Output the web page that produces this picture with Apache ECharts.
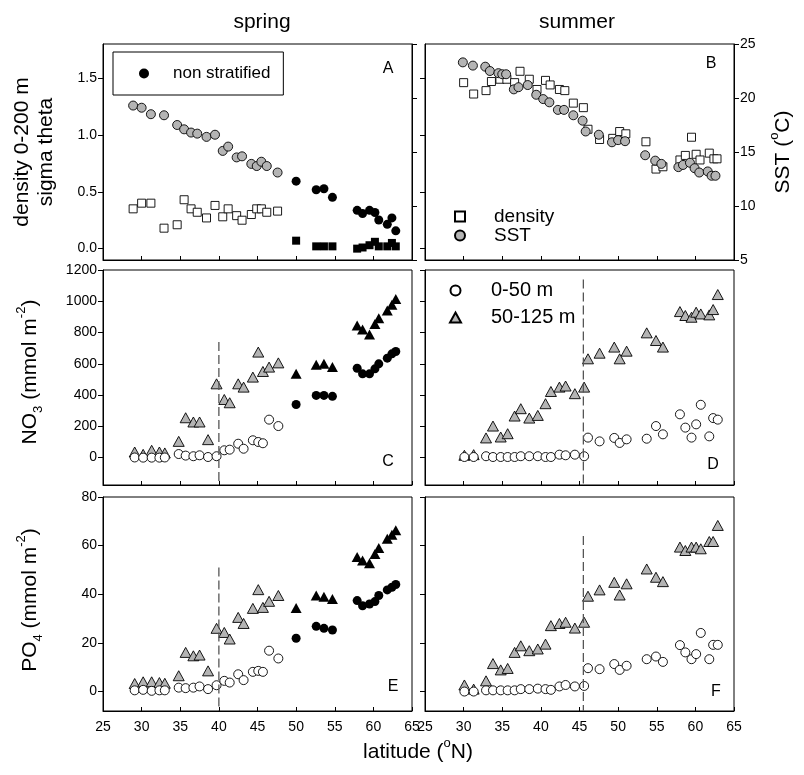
<!DOCTYPE html>
<html>
<head>
<meta charset="utf-8">
<script src="https://cdn.jsdelivr.net/npm/echarts@6/dist/echarts.min.js"></script>
</head>
<body style="margin:0;background:#fff">
<div id="main" style="width:804px;height:775px"></div>
<script type="text/javascript">
// ---- data ----
// panel A (spring, stratified stations with CTD)
var springCtdLat = [28.9, 30.0, 31.2, 32.9, 34.6, 35.5, 36.4, 37.2, 38.4, 39.5, 40.5, 41.2, 42.3, 43.0, 44.2, 44.9, 45.5, 46.2, 47.6];
var springDensity = [0.35, 0.40, 0.40, 0.18, 0.21, 0.43, 0.35, 0.32, 0.27, 0.38, 0.28, 0.35, 0.29, 0.25, 0.30, 0.35, 0.35, 0.32, 0.33];
var springSST = [19.3, 19.1, 18.5, 18.4, 17.5, 17.1, 16.8, 16.7, 16.4, 16.6, 15.1, 15.5, 14.5, 14.6, 13.9, 13.7, 14.1, 13.7, 13.1];
// spring non stratified stations
var springNsLat = [50.0, 52.6, 53.6, 54.7, 57.9, 58.6, 59.5, 60.2, 60.7, 61.8, 62.4, 62.9];
var springNsDensity = [0.07, 0.02, 0.02, 0.02, 0.0, 0.01, 0.03, 0.06, 0.02, 0.02, 0.05, 0.02];
var springNsSST = [12.3, 11.5, 11.6, 10.8, 9.6, 9.3, 9.6, 9.4, 8.7, 8.3, 8.9, 7.7];
// panel B (summer)
var summerSSTLat = [29.9, 31.2, 32.8, 33.4, 34.5, 35.0, 35.5, 36.5, 37.1, 38.3, 39.4, 40.3, 41.1, 42.2, 43.0, 44.2, 45.4, 45.8, 47.5, 49.2, 50.0, 50.9, 53.5, 54.8, 55.6, 57.8, 58.4, 59.3, 59.9, 60.5, 61.6, 62.1, 62.6];
var summerSST = [23.3, 23.0, 22.9, 22.5, 22.3, 22.2, 22.2, 20.8, 21.0, 21.2, 20.3, 19.9, 19.6, 18.9, 18.9, 18.4, 17.9, 16.9, 16.6, 15.9, 16.1, 16.0, 14.7, 14.2, 13.9, 13.6, 13.8, 14.0, 13.5, 13.1, 13.2, 12.8, 12.8];
var summerDensLat = [30.0, 31.3, 32.9, 33.6, 34.7, 35.6, 36.6, 37.3, 38.5, 39.5, 40.6, 41.2, 42.4, 43.1, 44.2, 45.5, 46.1, 47.6, 49.3, 50.2, 51.0, 53.6, 54.9, 55.8, 58.0, 58.7, 59.5, 60.1, 60.6, 61.8, 62.4, 62.8];
var summerDensity = [1.46, 1.36, 1.39, 1.47, 1.49, 1.49, 1.46, 1.56, 1.49, 1.40, 1.48, 1.44, 1.40, 1.39, 1.28, 1.24, 1.05, 0.96, 0.97, 1.03, 1.01, 0.94, 0.70, 0.72, 0.78, 0.82, 0.98, 0.83, 0.78, 0.84, 0.79, 0.79];
// panels C / E (spring nutrients)
var springStnLat = [29.1, 30.2, 31.3, 32.3, 33.0, 34.8, 35.7, 36.7, 37.5, 38.6, 39.7, 40.7, 41.4, 42.5, 43.2, 44.4, 45.1, 45.7, 46.5, 47.7];
var springNO3top = [1, 0, 0, 0, 1, 23, 13, 9, 15, 4, 9, 47, 51, 89, 57, 111, 100, 92, 243, 202];
var springNO3deep = [36, 21, 47, 36, 30, 104, 255, 228, 228, 115, 472, 372, 351, 472, 451, 515, 675, 551, 579, 606];
var springNsNO3top = [340, 398, 398, 392, 572, 536, 536, 568, 600, 636, 664, 679];
var springNsNO3deep = [536, 594, 600, 579, 845, 819, 787, 855, 892, 941, 977, 1015];
var springPO4top = [0.5, 0.7, 0.3, 0.5, 0.5, 1.6, 1.4, 1.6, 2.1, 1.0, 2.6, 4.4, 3.7, 7.1, 4.7, 8.1, 8.5, 8.1, 16.8, 13.6];
var springPO4deep = [3.3, 4.0, 4.0, 3.7, 3.4, 6.5, 16.1, 14.7, 15.0, 8.5, 26.0, 24.3, 21.6, 30.5, 28.0, 34.2, 41.9, 34.6, 37.1, 39.5];
var springNsPO4top = [21.9, 26.8, 26.0, 25.3, 37.4, 35.3, 36.0, 37.0, 39.5, 41.8, 42.9, 44.0];
var springNsPO4deep = [34.4, 39.5, 39.0, 38.1, 55.3, 53.9, 52.8, 56.6, 59.0, 62.8, 64.5, 66.3];
// panels D / F (summer nutrients)
var summerStnLat = [30.1, 31.3, 32.9, 33.8, 34.8, 35.7, 36.6, 37.4, 38.5, 39.6, 40.6, 41.3, 42.4, 43.2, 44.4, 45.6, 46.1, 47.6, 49.5, 50.2, 51.1, 53.7, 54.9, 55.8, 58.0, 58.7, 59.5, 60.1, 60.7, 61.8, 62.3, 62.9];
var summerNO3top = [4, 4, 9, 4, 4, 4, 4, 9, 9, 9, 4, 4, 19, 15, 19, 9, 128, 104, 126, 94, 117, 121, 202, 149, 277, 192, 128, 213, 338, 136, 253, 243];
var summerNO3deep = [15, 19, 126, 202, 132, 153, 266, 313, 253, 270, 345, 423, 451, 458, 409, 451, 632, 668, 707, 632, 681, 798, 749, 707, 934, 909, 898, 930, 919, 913, 947, 1043];
var summerPO4top = [0, 0, 0.5, 0.5, 0.5, 0.5, 0.5, 1.0, 1.0, 1.2, 1.0, 0.7, 2.1, 2.7, 2.1, 2.3, 9.6, 9.2, 11.3, 8.9, 10.6, 13.3, 14.4, 12.2, 19.1, 16.1, 13.3, 15.4, 24.1, 13.3, 19.2, 19.2];
var summerPO4deep = [2.7, 1.0, 4.4, 11.5, 8.9, 9.5, 16.1, 18.8, 16.8, 17.5, 19.5, 27.1, 28.0, 28.5, 26.1, 28.5, 39.2, 41.8, 44.9, 39.7, 44.3, 50.4, 47.0, 45.2, 59.4, 58.0, 59.4, 59.4, 58.7, 61.7, 61.7, 68.3];
// stratification fronts (dashed lines): latitude and upper end
var frontLat = [40, 45.5];
var frontTopNO3 = [740, 1140];
var frontTopPO4 = [51, 64];
// axis ranges and ticks
var latTicks = [25, 65, 5];
var densityRange = [-0.1, 1.8], densityTicks = [0, 0.5, 1.0, 1.5];
var sstRange = [5, 25, 5];
var no3Range = [-175, 1200], no3Ticks = [0, 200, 400, 600, 800, 1000, 1200];
var po4Range = [-8, 80], po4Ticks = [0, 20, 40, 60, 80];

var FONT = "'Liberation Sans', Arial, sans-serif";
var GRAY = '#b4b4b4';

function pts(lats, vals) {
    return lats.map(function (x, i) { return [x, vals[i]]; });
}

function scat(name, gi, yi, lats, vals, symbol, size, fill) {
    return {
        name: name, type: 'scatter', xAxisIndex: gi, yAxisIndex: yi,
        symbol: symbol, symbolSize: size,
        itemStyle: {color: fill, borderColor: '#000', borderWidth: fill === '#000' ? 0 : 0.9, opacity: 1},
        data: pts(lats, vals), silent: true
    };
}

function front(gi, yi, lat, top, bottom) {
    return {
        type: 'line', xAxisIndex: gi, yAxisIndex: yi, symbol: 'none', silent: true,
        lineStyle: {color: '#555', width: 1.3, type: [9, 4]},
        data: [[lat, top], [lat, bottom]]
    };
}

var grids = [
    {left: 103, top: 44, width: 309, height: 216},
    {left: 425, top: 44, width: 309, height: 216},
    {left: 103, top: 270, width: 309, height: 215},
    {left: 425, top: 270, width: 309, height: 215},
    {left: 103, top: 497, width: 309, height: 214},
    {left: 425, top: 497, width: 309, height: 214}
];
grids.forEach(function (g) {
    g.show = true; g.borderColor = '#000'; g.borderWidth = 1; g.outerBoundsMode = 'none';
});

var xAxes = grids.map(function (g, i) {
    return {
        gridIndex: i, type: 'value', min: latTicks[0], max: latTicks[1], interval: latTicks[2],
        axisLine: {onZero: false, lineStyle: {color: '#000', width: 1}},
        axisTick: {inside: true, length: 4, lineStyle: {color: '#000'}},
        axisLabel: {show: i >= 4, color: '#000', fontSize: 14, fontFamily: FONT, margin: 9},
        splitLine: {show: false}
    };
});

var plainFmt = function (v) { return String(v); };
function yAx(gi, range, ticks, showLabel, fmt) {
    return {
        gridIndex: gi, type: 'value', min: range[0], max: range[1],
        axisLine: {show: true, lineStyle: {color: '#000'}},
        axisTick: {show: true, length: 5, customValues: ticks, lineStyle: {color: '#000'}},
        axisLabel: {show: showLabel, customValues: ticks, color: '#000', fontSize: 14, fontFamily: FONT, margin: 6,
            formatter: fmt || plainFmt},
        splitLine: {show: false}
    };
}
function sstAx(gi, showLabel) {
    return {
        gridIndex: gi, type: 'value', position: 'right', min: sstRange[0], max: sstRange[1], interval: sstRange[2],
        axisLine: {show: true, lineStyle: {color: '#000'}},
        axisTick: {show: true, length: 5, lineStyle: {color: '#000'}},
        axisLabel: {show: showLabel, color: '#000', fontSize: 14, fontFamily: FONT, margin: 6},
        splitLine: {show: false}
    };
}
var dFmt = function (v) { return v.toFixed(1); };

var yAxes = [
    yAx(0, densityRange, densityTicks, true, dFmt),   // 0 A density
    sstAx(0, false),                                  // 1 A SST
    yAx(1, densityRange, densityTicks, false, dFmt),  // 2 B density
    sstAx(1, true),                                   // 3 B SST
    yAx(2, no3Range, no3Ticks, true),                 // 4 C
    yAx(3, no3Range, no3Ticks, false),                // 5 D
    yAx(4, po4Range, po4Ticks, true),                 // 6 E
    yAx(5, po4Range, po4Ticks, false)                 // 7 F
];

var CIRC = 9, SQ = 8, TRI = [11, 10];
var series = [
    // A
    scat('dens spring', 0, 0, springCtdLat, springDensity, 'rect', SQ, '#fff'),
    scat('dens ns', 0, 0, springNsLat, springNsDensity, 'rect', SQ, '#000'),
    scat('sst spring', 0, 1, springCtdLat, springSST, 'circle', CIRC, GRAY),
    scat('non stratified', 0, 1, springNsLat, springNsSST, 'circle', CIRC, '#000'),
    // B
    scat('density', 1, 2, summerDensLat, summerDensity, 'rect', SQ, '#fff'),
    scat('SST', 1, 3, summerSSTLat, summerSST, 'circle', CIRC, GRAY),
    // C
    front(2, 4, frontLat[0], frontTopNO3[0], no3Range[0]),
    scat('no3 deep sp', 2, 4, springStnLat, springNO3deep, 'triangle', TRI, GRAY),
    scat('no3 top sp', 2, 4, springStnLat, springNO3top, 'circle', CIRC, '#fff'),
    scat('no3 deep ns', 2, 4, springNsLat, springNsNO3deep, 'triangle', TRI, '#000'),
    scat('no3 top ns', 2, 4, springNsLat, springNsNO3top, 'circle', CIRC, '#000'),
    // D
    front(3, 5, frontLat[1], frontTopNO3[1], no3Range[0]),
    scat('50-125 m', 3, 5, summerStnLat, summerNO3deep, 'triangle', TRI, GRAY),
    scat('0-50 m', 3, 5, summerStnLat, summerNO3top, 'circle', CIRC, '#fff'),
    // E
    front(4, 6, frontLat[0], frontTopPO4[0], po4Range[0]),
    scat('po4 deep sp', 4, 6, springStnLat, springPO4deep, 'triangle', TRI, GRAY),
    scat('po4 top sp', 4, 6, springStnLat, springPO4top, 'circle', CIRC, '#fff'),
    scat('po4 deep ns', 4, 6, springNsLat, springNsPO4deep, 'triangle', TRI, '#000'),
    scat('po4 top ns', 4, 6, springNsLat, springNsPO4top, 'circle', CIRC, '#000'),
    // F
    front(5, 7, frontLat[1], frontTopPO4[1], po4Range[0]),
    scat('po4 deep su', 5, 7, summerStnLat, summerPO4deep, 'triangle', TRI, GRAY),
    scat('po4 top su', 5, 7, summerStnLat, summerPO4top, 'circle', CIRC, '#fff')
];

var legends = [
    {
        data: ['non stratified'], left: 113, top: 52, orient: 'horizontal',
        padding: [13, 13, 13, 26], borderColor: '#000', borderWidth: 1, borderRadius: 0,
        itemWidth: 10, itemHeight: 10, selectedMode: false,
        textStyle: {fontSize: 17, fontFamily: FONT, color: '#000', padding: [0, 0, 0, 19], lineHeight: 17}
    },
    {
        data: ['density', 'SST'], left: 454, top: 207, orient: 'vertical', padding: 0, itemGap: 0,
        itemWidth: 10, itemHeight: 10, selectedMode: false,
        textStyle: {fontSize: 19, fontFamily: FONT, color: '#000', padding: [0, 0, 0, 24], lineHeight: 18}
    },
    {
        data: ['0-50 m', '50-125 m'], left: 449, top: 277, orient: 'vertical', padding: 0, itemGap: 0,
        itemWidth: 11, itemHeight: 10, selectedMode: false,
        textStyle: {fontSize: 20, fontFamily: FONT, color: '#000', padding: [0, 0, 0, 25], lineHeight: 27}
    }
];

function label(x, y, text, size, rot, rich) {
    return {
        type: 'text', x: x, y: y, rotation: rot || 0, silent: true,
        style: {text: text, fontSize: size, fontFamily: FONT, fill: '#000', align: 'center', verticalAlign: 'middle', rich: rich}
    };
}
var R90 = Math.PI / 2;
var richBase = {
    n: {fontSize: 21, fontFamily: FONT, lineHeight: 30},
    sub: {fontSize: 13, fontFamily: FONT, verticalAlign: 'bottom', lineHeight: 30},
    sup: {fontSize: 13, fontFamily: FONT, verticalAlign: 'top', lineHeight: 30}
};

var graphics = [
    label(262, 22, 'spring', 21),
    label(577, 22, 'summer', 21),
    label(418, 752, '{n|latitude (}{sup|o}{n|N)}', 21, 0, richBase),
    label(22, 152, 'density 0-200 m', 21, R90),
    label(46, 152, 'sigma theta', 21, R90),
    label(30, 372, '{n|NO}{sub|3}{n| (mmol m}{sup|-2}{n|)}', 21, R90, richBase),
    label(30, 600, '{n|PO}{sub|4}{n| (mmol m}{sup|-2}{n|)}', 21, R90, richBase),
    label(783, 152, '{n|SST (}{sup|o}{n|C)}', 21, R90, richBase),
    label(388, 69, 'A', 16),
    label(711, 64, 'B', 16),
    label(388, 462, 'C', 16),
    label(713, 465, 'D', 16),
    label(393, 687, 'E', 16),
    label(716, 692, 'F', 16)
];

var myChart = echarts.init(document.getElementById('main'), null, {renderer: 'canvas'});
myChart.setOption({
    animation: false,
    backgroundColor: '#fff',
    grid: grids,
    xAxis: xAxes,
    yAxis: yAxes,
    legend: legends,
    series: series,
    graphic: graphics
});
</script>
</body>
</html>
